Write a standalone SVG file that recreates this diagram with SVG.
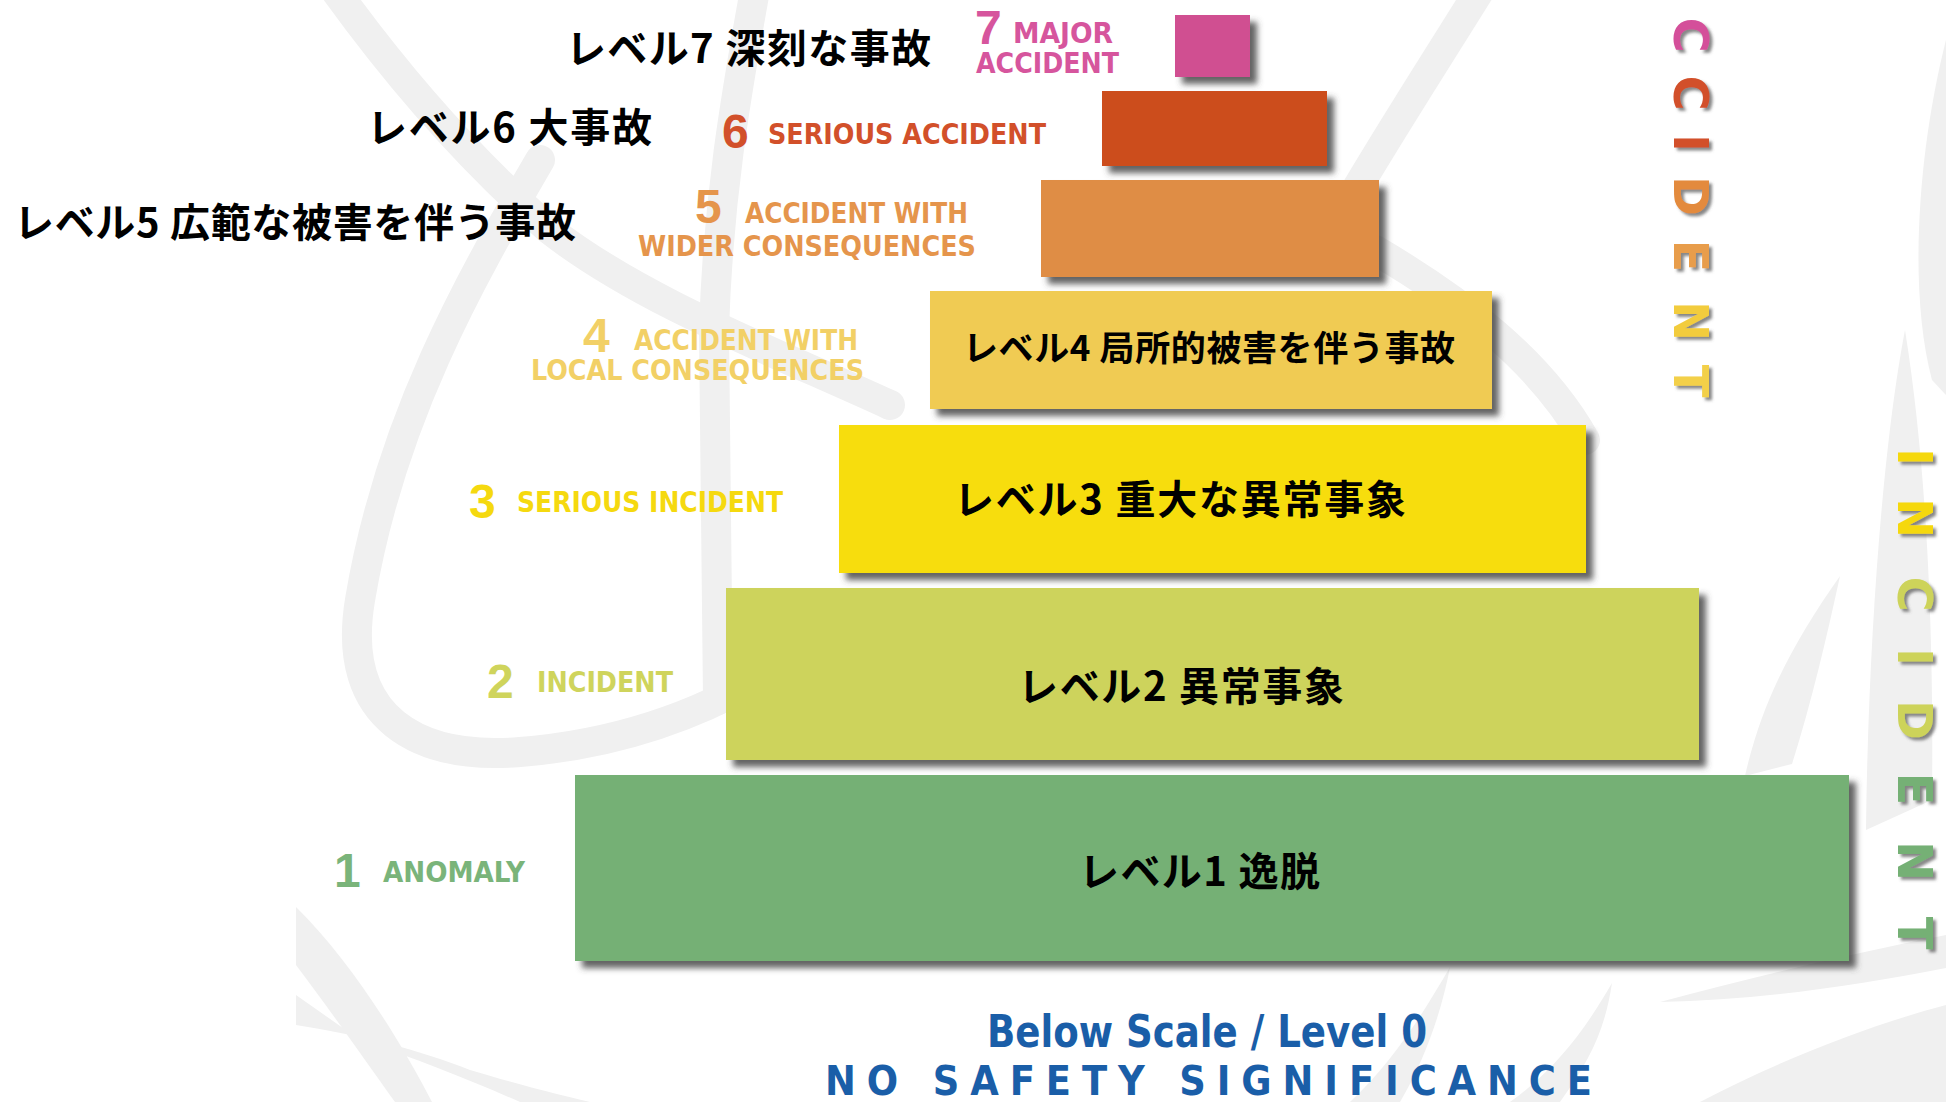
<svg xmlns="http://www.w3.org/2000/svg" width="1946" height="1102" viewBox="0 0 1946 1102">
<defs>
<filter id="sh" x="-10%" y="-10%" width="130%" height="140%">
<feDropShadow dx="7" dy="7" stdDeviation="3" flood-color="#4a4a4a" flood-opacity="0.85"/>
</filter>
<filter id="lsh" x="-30%" y="-30%" width="170%" height="170%">
<feDropShadow dx="3" dy="3" stdDeviation="1.5" flood-color="#555" flood-opacity="0.7"/>
</filter>
</defs>
<style>
.jp{font-family:"Noto Sans CJK JP","Noto Sans CJK SC",sans-serif;font-weight:700;font-size:40px;fill:#000}
.en{font-family:"Liberation Sans Narrow","DejaVu Sans Condensed","Liberation Sans",sans-serif;font-weight:700;font-size:28px}
.num{font-family:"Liberation Sans","DejaVu Sans",sans-serif;font-weight:700;font-size:48px}
.vl{font-family:"DejaVu Sans","Liberation Sans",sans-serif;font-weight:700;font-size:48px;text-anchor:middle}
.wm{fill:none;stroke:#f0f0f0;stroke-width:30;stroke-linecap:round}
.leaf{fill:#f0f0f0;stroke:none}
.blue{fill:#1a5ea8;font-family:"Liberation Sans Narrow","DejaVu Sans Condensed","Liberation Sans",sans-serif;font-weight:700}
</style>
<rect width="1946" height="1102" fill="#ffffff"/>
<g id="watermark">
<path class="wm" d="M335 -10 C400 80 470 160 550 230 C640 300 770 350 890 405"/>
<path class="wm" d="M540 160 C470 280 390 420 360 600 C340 720 420 760 520 752 C620 744 700 715 770 672"/>
<path class="wm" d="M755 -10 C735 100 718 200 714 330 L718 700"/>
<path class="wm" d="M1480 -10 C1430 70 1385 140 1350 200"/>
<path class="wm" d="M1375 250 C1460 300 1540 360 1585 440"/>
<path class="leaf" d="M1946 40 C1918 150 1908 290 1932 380 L1946 395 Z"/>
<path class="leaf" d="M1905 330 C1882 450 1868 650 1866 830 L1932 800 C1934 600 1924 450 1905 330 Z"/>
<path class="leaf" d="M1840 576 C1795 640 1762 700 1745 776 L1792 764 C1812 700 1826 640 1840 576 Z"/>
<path class="leaf" d="M1660 1002 C1760 975 1860 952 1946 935 L1946 968 C1860 985 1760 1000 1660 1002 Z"/>
<path class="leaf" d="M1700 1102 C1780 1060 1870 1025 1946 1005 L1946 1102 Z"/>
<path class="leaf" d="M1450 967 C1425 1010 1395 1060 1350 1102 L1400 1102 C1425 1060 1442 1010 1450 967 Z"/>
<path class="leaf" d="M1612 983 C1585 1030 1555 1070 1510 1102 L1560 1102 C1590 1060 1605 1030 1612 983 Z"/>
<path class="leaf" d="M296 907 L296 965 C330 1010 365 1060 395 1102 L432 1102 C400 1040 350 960 296 907 Z"/>
<path class="leaf" d="M296 995 L296 1025 C360 1035 420 1050 470 1070 C520 1085 560 1095 590 1102 L520 1102 C470 1080 420 1060 360 1040 Z"/>
</g>
<g id="connectors"/>
<g id="level7">
<rect x="1175" y="15" width="75" height="62" fill="#d04f91" filter="url(#sh)"/>
<text class="jp" x="566" y="63" textLength="365">レベル7 深刻な事故</text>
<text class="num" x="975" y="44" fill="#d6559d">7</text>
<text class="en" x="1013" y="43" fill="#d6559d" textLength="100" lengthAdjust="spacingAndGlyphs">MAJOR</text>
<text class="en" x="976" y="73" fill="#d6559d" textLength="143" lengthAdjust="spacingAndGlyphs">ACCIDENT</text>
</g>
<g id="level6">
<rect x="1102" y="91" width="225" height="75" fill="#cc4e1c" filter="url(#sh)"/>
<text class="jp" x="367" y="142" textLength="285">レベル6 大事故</text>
<text class="num" x="722" y="148" fill="#d2502a">6</text>
<text class="en" x="768" y="144" fill="#d2502a" textLength="278" lengthAdjust="spacingAndGlyphs">SERIOUS ACCIDENT</text>
</g>
<g id="level5">
<rect x="1041" y="180" width="338" height="97" fill="#df8d45" filter="url(#sh)"/>
<text class="jp" x="14" y="237" textLength="562">レベル5 広範な被害を伴う事故</text>
<text class="num" x="695" y="223" fill="#e5954c">5</text>
<text class="en" x="745" y="223" fill="#e5954c" textLength="223" lengthAdjust="spacingAndGlyphs">ACCIDENT WITH</text>
<text class="en" x="638" y="256" fill="#e5954c" textLength="338" lengthAdjust="spacingAndGlyphs">WIDER CONSEQUENCES</text>
</g>
<g id="level4">
<rect x="930" y="291" width="562" height="118" fill="#f0cb52" filter="url(#sh)"/>
<text class="jp" x="963" y="361" style="font-size:35px" textLength="492">レベル4 局所的被害を伴う事故</text>
<text class="num" x="583" y="352" fill="#f2d066">4</text>
<text class="en" x="634" y="350" fill="#f2d066" textLength="224" lengthAdjust="spacingAndGlyphs">ACCIDENT WITH</text>
<text class="en" x="531" y="380" fill="#f2d066" textLength="333" lengthAdjust="spacingAndGlyphs">LOCAL CONSEQUENCES</text>
</g>
<g id="level3">
<rect x="839" y="425" width="747" height="148" fill="#f7dd0b" filter="url(#sh)"/>
<text class="jp" x="954" y="514" textLength="452">レベル3 重大な異常事象</text>
<text class="num" x="469" y="518" fill="#f5d90f">3</text>
<text class="en" x="517" y="512" fill="#f5d90f" textLength="266" lengthAdjust="spacingAndGlyphs">SERIOUS INCIDENT</text>
</g>
<g id="level2">
<rect x="726" y="588" width="973" height="172" fill="#cdd35b" filter="url(#sh)"/>
<text class="jp" x="1018" y="701" textLength="326">レベル2 異常事象</text>
<text class="num" x="487" y="698" fill="#cfd45c">2</text>
<text class="en" x="537" y="692" fill="#cfd45c" textLength="136" lengthAdjust="spacingAndGlyphs">INCIDENT</text>
</g>
<g id="level1">
<rect x="575" y="775" width="1274" height="186" fill="#74b075" filter="url(#sh)"/>
<text class="jp" x="1079" y="886" textLength="241">レベル1 逸脱</text>
<text class="num" x="334" y="887" fill="#7ab47a">1</text>
<text class="en" x="383" y="882" fill="#7ab47a" textLength="142" lengthAdjust="spacingAndGlyphs">ANOMALY</text>
</g>
<g id="level0">
<text class="blue" x="987" y="1047" style="font-size:45px" textLength="440" lengthAdjust="spacingAndGlyphs">Below Scale / Level 0</text>
<text class="blue" x="825" y="1095" style="font-size:41px" textLength="767" lengthAdjust="spacing">NO SAFETY SIGNIFICANCE</text>
</g>
<g id="accident-label" filter="url(#lsh)">
<text class="vl" fill="#d4509a" transform="translate(1674 35) rotate(90)">C</text>
<text class="vl" fill="#d2502a" transform="translate(1674 93) rotate(90)">C</text>
<text class="vl" fill="#d2502a" transform="translate(1674 143) rotate(90)">I</text>
<text class="vl" fill="#e38a3c" transform="translate(1674 196) rotate(90)">D</text>
<text class="vl" fill="#e89d4c" transform="translate(1674 256) rotate(90)">E</text>
<text class="vl" fill="#f2cc3e" transform="translate(1674 321) rotate(90)">N</text>
<text class="vl" fill="#f3d04a" transform="translate(1674 381) rotate(90)">T</text>
</g>
<g id="incident-label" filter="url(#lsh)">
<text class="vl" fill="#f5d80e" transform="translate(1898 457) rotate(90)">I</text>
<text class="vl" fill="#f5d80e" transform="translate(1898 518) rotate(90)">N</text>
<text class="vl" fill="#cdd35a" transform="translate(1898 594) rotate(90)">C</text>
<text class="vl" fill="#cdd35a" transform="translate(1898 657) rotate(90)">I</text>
<text class="vl" fill="#cdd35a" transform="translate(1898 720) rotate(90)">D</text>
<text class="vl" fill="#74b075" transform="translate(1898 789) rotate(90)">E</text>
<text class="vl" fill="#74b075" transform="translate(1898 861) rotate(90)">N</text>
<text class="vl" fill="#74b075" transform="translate(1898 933) rotate(90)">T</text>
</g>
</svg>
